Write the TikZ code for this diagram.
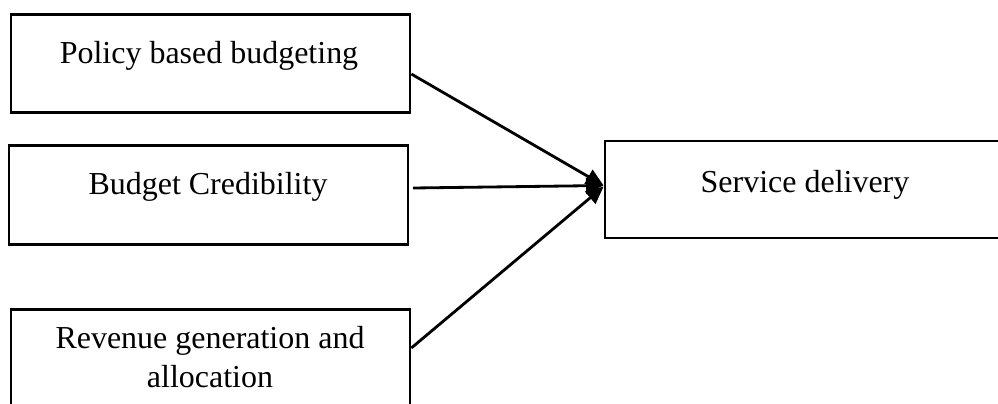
\documentclass[tikz,border=0pt]{standalone}
\usepackage{fontspec}
\setmainfont{Liberation Serif}
\usetikzlibrary{arrows.meta}

\begin{document}
\begin{tikzpicture}[x=0.02cm,y=-0.02cm,
  box/.style={draw,line width=1.6pt,minimum width=7.98cm,minimum height=1.97cm,inner sep=0pt},
  txt/.style={anchor=base,font=\fontsize{18.2}{22}\selectfont,align=center},
  link/.style={line width=1.6pt,-{Triangle[length=10pt,width=9pt]}}]
\useasboundingbox (0,0) rectangle (998,403);

% left column
\node[box] (policy) at (210.5,63.5) {};
\node[txt] (policyT) at (209,63) {Policy based budgeting};

\node[box] (cred) at (208.5,195) {};
\node[txt] (credT) at (208,194) {Budget Credibility};

\node[box] (rev) at (210.5,358.5) {};
\node[txt] (revT) at (210,387) {Revenue generation and\\allocation};

% right box
\node[box,minimum width=8cm,minimum height=1.94cm] (serv) at (805,189.5) {};
\node[txt] (servT) at (805,192) {Service delivery};

% arrows
\coordinate (credOut) at (413,188);
\draw[link] (policy.-3.3) -- ([yshift=0.08cm]serv.west);
\draw[link] (credOut) -- ([yshift=0.08cm]serv.west);
\draw[link] (rev.3.9) -- ([yshift=0.06cm]serv.west);
\end{tikzpicture}
\end{document}
